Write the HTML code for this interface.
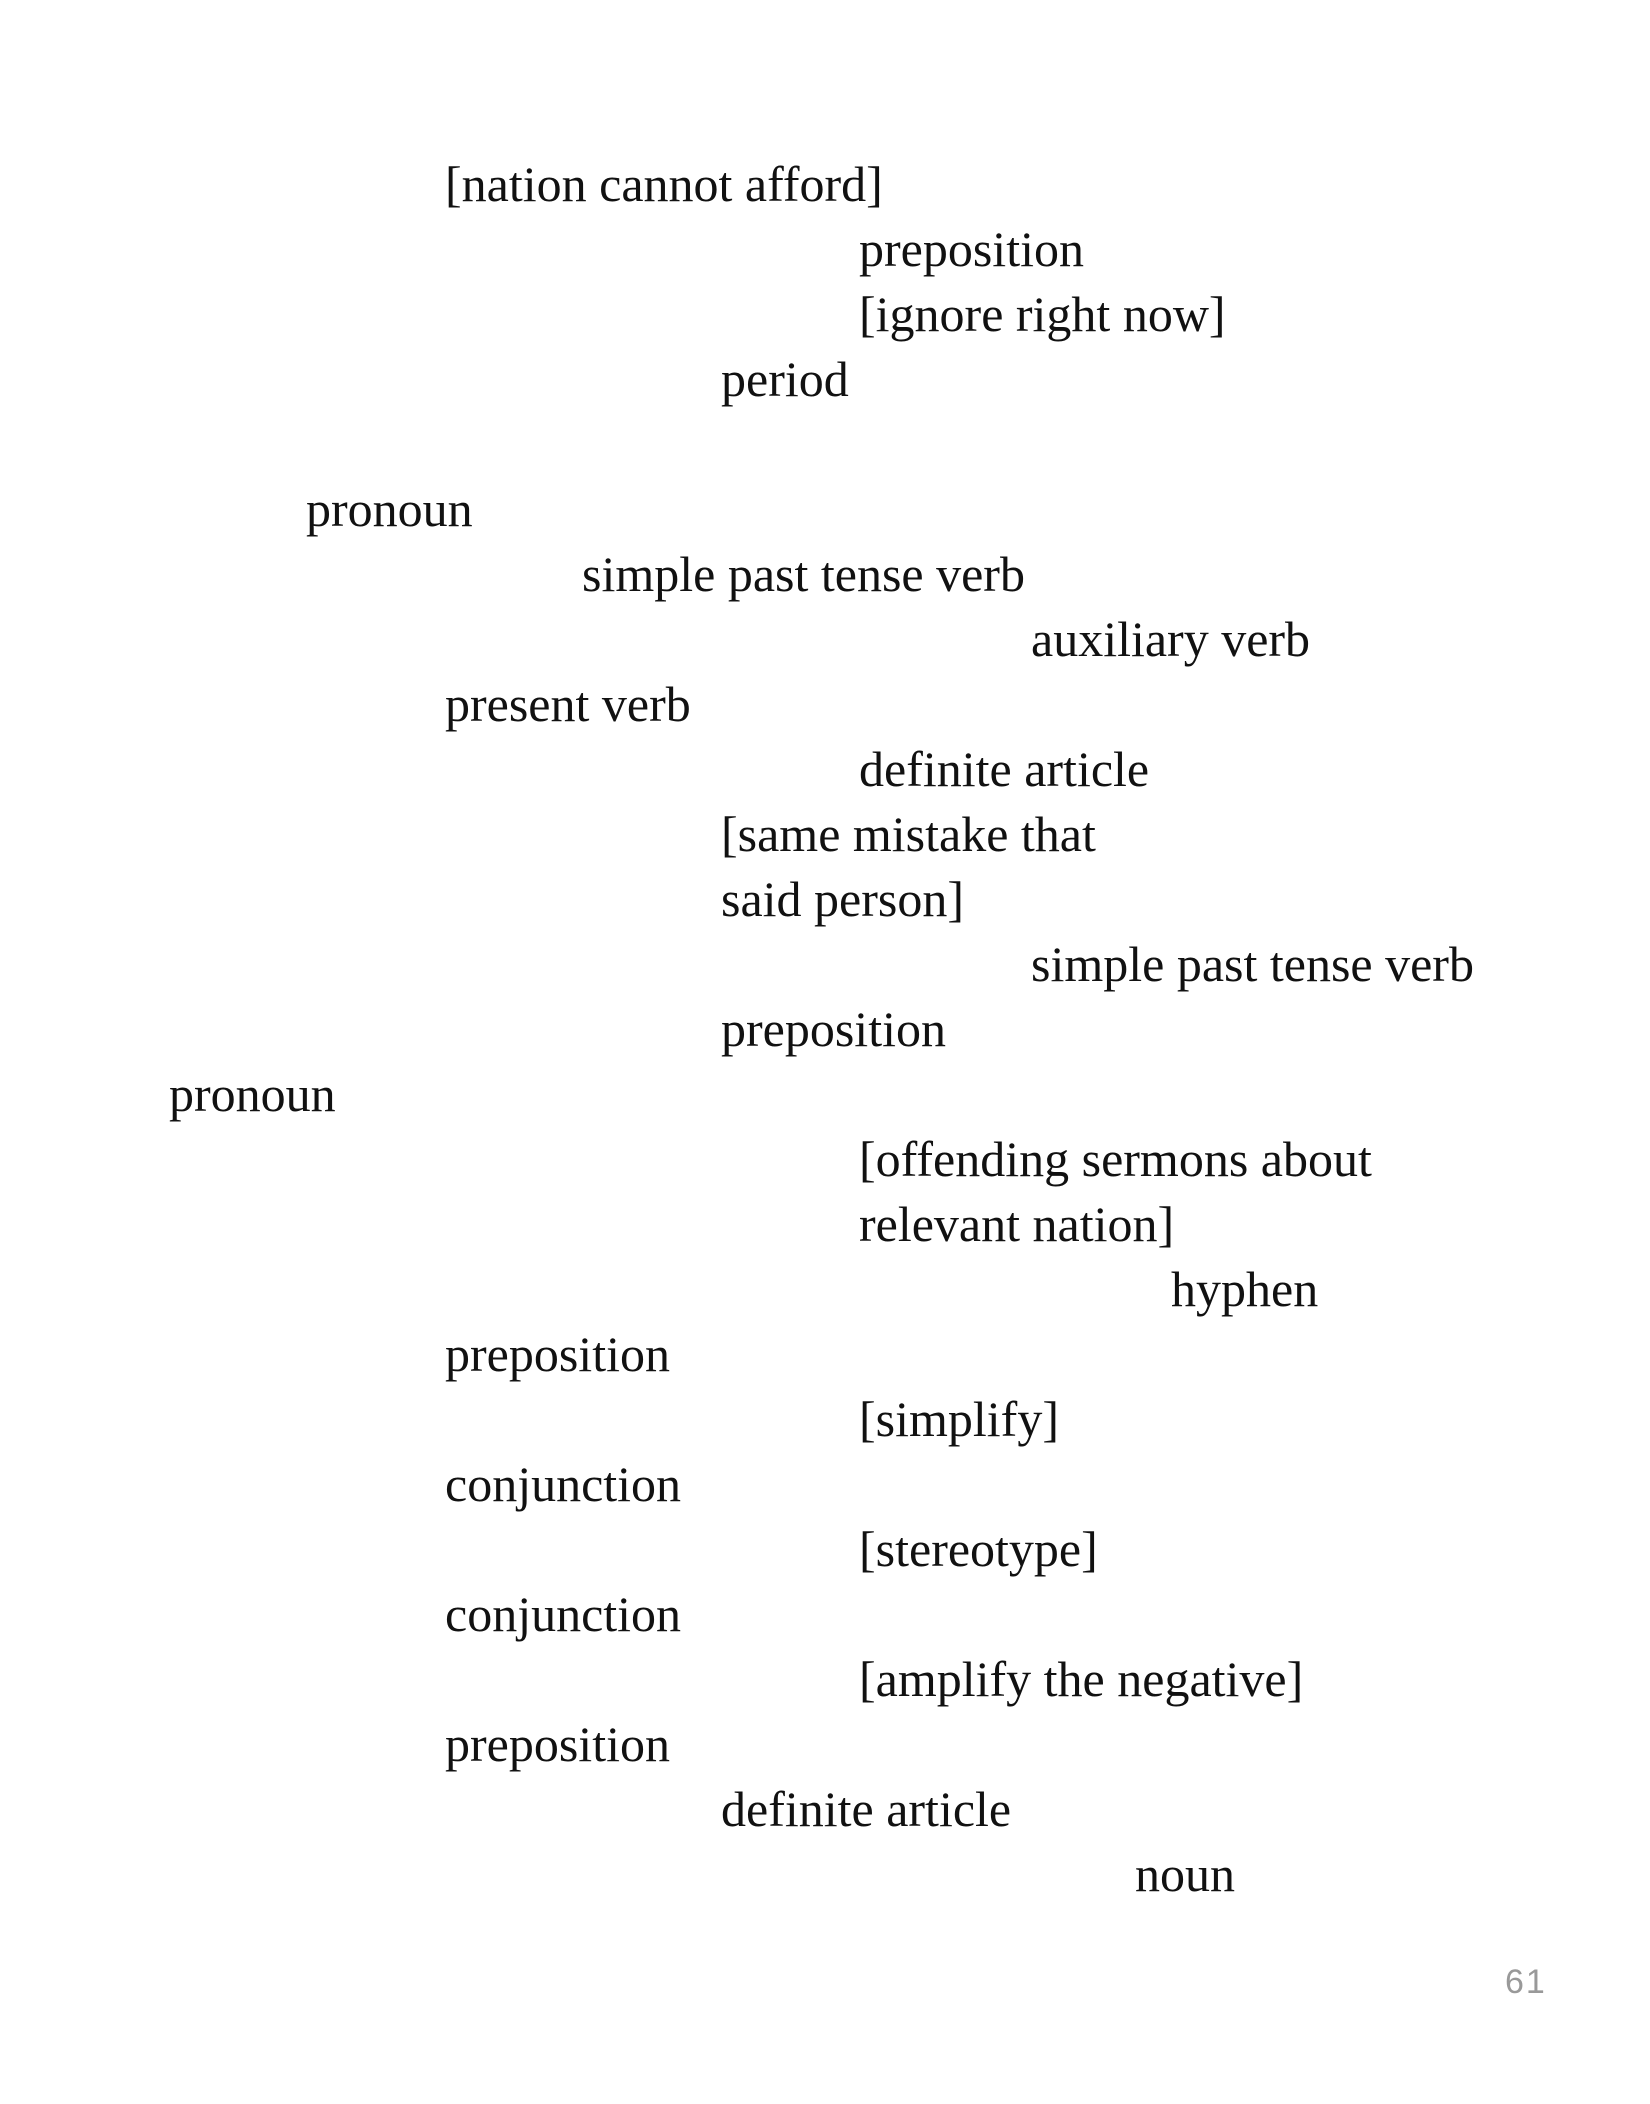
<!DOCTYPE html>
<html><head><meta charset="utf-8"><style>
html,body{margin:0;padding:0;background:#fff}
svg{display:block}
.t{font-family:"Liberation Serif",serif;font-size:50px;fill:#111}
.n{font-family:"Liberation Sans",sans-serif;font-size:34px;fill:#999;letter-spacing:2px}
</style></head><body>
<svg width="1650" height="2104" viewBox="0 0 1650 2104" xmlns="http://www.w3.org/2000/svg">
<text class="t" x="445" y="201">[nation cannot afford]</text>
<text class="t" x="859" y="266">preposition</text>
<text class="t" x="859" y="331">[ignore right now]</text>
<text class="t" x="721" y="396">period</text>
<text class="t" x="306" y="526">pronoun</text>
<text class="t" x="582" y="591">simple past tense verb</text>
<text class="t" x="1031" y="656">auxiliary verb</text>
<text class="t" x="445" y="721">present verb</text>
<text class="t" x="859" y="786">definite article</text>
<text class="t" x="721" y="851">[same mistake that</text>
<text class="t" x="721" y="916">said person]</text>
<text class="t" x="1031" y="981">simple past tense verb</text>
<text class="t" x="721" y="1046">preposition</text>
<text class="t" x="169" y="1111">pronoun</text>
<text class="t" x="859" y="1176">[offending sermons about</text>
<text class="t" x="859" y="1241">relevant nation]</text>
<text class="t" x="1171" y="1306">hyphen</text>
<text class="t" x="445" y="1371">preposition</text>
<text class="t" x="859" y="1436">[simplify]</text>
<text class="t" x="445" y="1501">conjunction</text>
<text class="t" x="859" y="1566">[stereotype]</text>
<text class="t" x="445" y="1631">conjunction</text>
<text class="t" x="859" y="1696">[amplify the negative]</text>
<text class="t" x="445" y="1761">preposition</text>
<text class="t" x="721" y="1826">definite article</text>
<text class="t" x="1135" y="1891">noun</text>
<text class="n" x="1505" y="1993">61</text>
</svg>
</body></html>
